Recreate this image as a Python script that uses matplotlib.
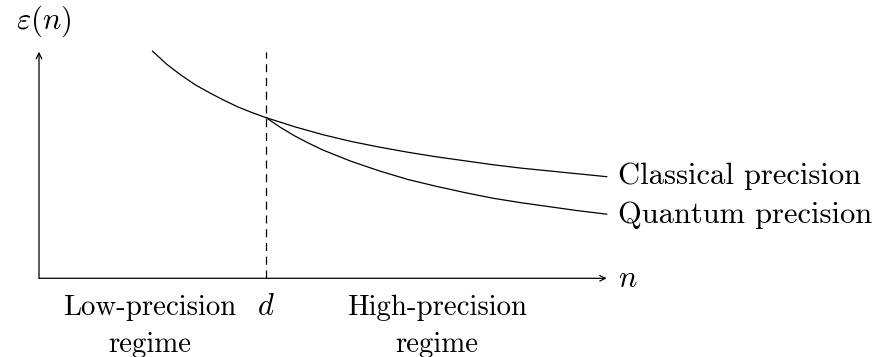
import matplotlib
matplotlib.use("Agg")
import matplotlib.pyplot as plt

plt.rcParams['mathtext.fontset'] = 'cm'
plt.rcParams['lines.scale_dashes'] = False

# Data (in diagram units)
classical_n = [2.0, 2.25, 2.5, 2.75, 3.0, 3.25, 3.5, 3.75, 4.0, 4.5, 5.0, 5.5, 6.0, 6.5, 7.0, 7.5, 8.0, 8.5, 9.0, 9.5, 10.0]
classical_eps = [4.00, 3.77, 3.58, 3.41, 3.27, 3.14, 3.02, 2.92, 2.83, 2.67, 2.53, 2.41, 2.31, 2.22, 2.14, 2.07, 2.00, 1.94, 1.89, 1.84, 1.79]
quantum_n = [4.0, 4.25, 4.5, 4.75, 5.0, 5.5, 6.0, 6.5, 7.0, 7.5, 8.0, 8.5, 9.0, 9.5, 10.0]
quantum_eps = [2.83, 2.66, 2.51, 2.38, 2.26, 2.06, 1.89, 1.74, 1.62, 1.51, 1.41, 1.33, 1.26, 1.19, 1.13]
d_value = 4.0
x_axis_end = 10.0
y_axis_end = 3.99
curve_labels = ["Classical precision", "Quantum precision"]
regime_labels = ["Low-precision\nregime", "High-precision\nregime"]

fig = plt.figure(figsize=(8.77, 3.57), dpi=100)
ax = fig.add_axes([0, 0, 1, 1])
ax.set_xlim(-0.687, 14.761)
ax.set_ylim(-1.386, 4.902)
ax.axis('off')

lw = 0.9
# axes arrows
ax.annotate("", xy=(x_axis_end, 0), xytext=(0, 0),
            arrowprops=dict(arrowstyle="->,head_length=0.4,head_width=0.2", lw=lw, color='black',
                            shrinkA=0, shrinkB=0))
ax.annotate("", xy=(0, y_axis_end), xytext=(0, 0),
            arrowprops=dict(arrowstyle="->,head_length=0.4,head_width=0.2", lw=lw, color='black',
                            shrinkA=0, shrinkB=0))

# dashed threshold
ax.plot([d_value, d_value], [0, y_axis_end], color='black', lw=lw, linestyle=(0, (5.8, 4.1)))

# curves
ax.plot(classical_n, classical_eps, color='black', lw=lw, solid_joinstyle='round')
ax.plot(quantum_n, quantum_eps, color='black', lw=lw, solid_joinstyle='round')

fs = 22
tf = dict(family='cmr10', fontsize=fs, color='black')
ax.text(x_axis_end + 0.2, classical_eps[-1], curve_labels[0], ha='left', va='center', **tf)
ax.text(x_axis_end + 0.2, quantum_eps[-1] - 0.02, curve_labels[1], ha='left', va='center', **tf)

ax.text(0.09, 4.53, r"$\varepsilon(n)$", ha='center', va='center', fontsize=fs)
ax.text(x_axis_end + 0.2, 0.0, r"$n$", ha='left', va='center', fontsize=fs)
ax.text(d_value, -0.646, r"$d$", ha='center', va='baseline', fontsize=fs)

rf = dict(family='cmr10', fontsize=20.8, color='black')
for cx, lab in zip([1.955, 7.01], regime_labels):
    l1, l2 = lab.split("\n")
    ax.text(cx, -0.646, l1, ha='center', va='baseline', **rf)
    ax.text(cx, -1.29, l2, ha='center', va='baseline', **rf)

fig.savefig("out.png", dpi=100)
